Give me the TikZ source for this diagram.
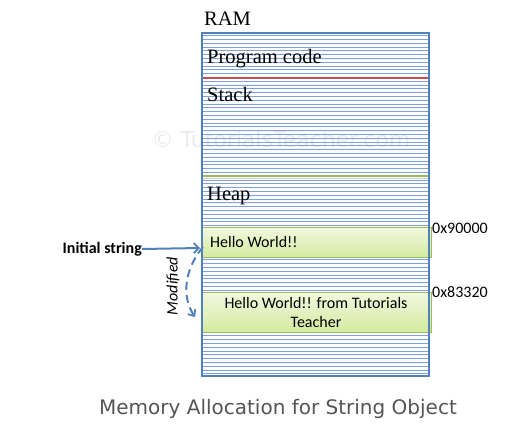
\documentclass[tikz,border=0pt]{standalone}
\usepackage{fontspec}
\setmainfont{Liberation Serif}
\newfontfamily\calfont{Carlito}
\newfontfamily\capfont{DejaVu Sans}
\usetikzlibrary{arrows.meta}
\definecolor{ramblue}{HTML}{4F81BD}
\definecolor{stripeblue}{HTML}{7EA2D8}
\definecolor{stackred}{HTML}{C0504D}
\definecolor{heapgreen}{HTML}{9BBB59}
\definecolor{boxtop}{HTML}{F1F8DE}
\definecolor{boxbot}{HTML}{D4EAA0}
\definecolor{capgray}{HTML}{555555}
\tikzset{
  stripe/.style={stripeblue, line width=1pt},
  serif/.style={inner sep=0pt, font=\fontsize{20.5}{22}\selectfont},
  sans/.style={inner sep=0pt, font=\calfont\fontsize{16}{19}\selectfont},
  strbox/.style={draw=heapgreen, line width=1pt, top color=boxtop, bottom color=boxbot, inner sep=0pt},
  arr/.style={ramblue, line width=2pt},
}
\begin{document}
\begin{tikzpicture}[x=1pt,y=-1pt]
\useasboundingbox (0,0) rectangle (530,424);
% watermark
\node[inner sep=0pt, anchor=base, text=black!8, font=\capfont\fontsize{22}{24}\selectfont] (wm) at (281,147) {© TutorialsTeacher.com};
% stripes
\foreach \i in {0,...,89} {
  \draw[stripe] (202,{35.6+\i*3.8}) -- (429,{35.6+\i*3.8});
}
% region separators
\draw[stackred, line width=1.8pt] (202,78) -- (429,78);
\draw[black!20, line width=1pt] (202,178) -- (429,178);
\draw[heapgreen, line width=2pt] (202,176) -- (429,176);
% string boxes
\node[strbox, minimum width=229pt, minimum height=30pt, anchor=north west] (s1) at (202,227) {};
\node[strbox, minimum width=229pt, minimum height=40pt, anchor=north west] (s2) at (202,292) {};
% RAM outline
\draw[ramblue, line width=2pt] (202,33) rectangle (429,376);
% serif labels
\node[serif, anchor=base west] (ram) at (204,25) {RAM};
\node[serif, anchor=base west] (prog) at (207,63) {Program code};
\node[serif, anchor=base west] (stack) at (207,101) {Stack};
\node[serif, anchor=base west] (heap) at (207,200) {Heap};
% string texts
\node[sans, anchor=west] (t1) at (210,242) {Hello World!!};
\node[sans, align=center, anchor=center] (t2) at (316,312) {Hello World!! from Tutorials\\Teacher};
\node[sans, anchor=west] (a1) at (432,228) {0x90000};
\node[sans, anchor=west] (a2) at (432,292) {0x83320};
% initial string arrow
\node[sans, font=\calfont\bfseries\fontsize{16}{19}\selectfont, anchor=east] (init) at (142,249) {Initial string};
\coordinate (tip) at (200,248);
\draw[arr, -{Straight Barb[length=5pt,width=10pt,line width=1.8pt]}] (init.east) -- (tip);
% modified arrow
\coordinate (mstart) at (203,247);
\coordinate (mend) at (195,317);
\draw[arr, dash pattern=on 8pt off 5pt, -{Straight Barb[length=5pt,width=9pt,line width=1.8pt]}]
  (mstart) .. controls (185,268) and (181,296) .. (mend);
\node[sans, font=\calfont\itshape\fontsize{16}{19}\selectfont, rotate=90] (mod) at (173,286) {Modified};
% caption
\node[inner sep=0pt, anchor=base, text=capgray, font=\capfont\fontsize{20}{24}\selectfont] (cap) at (278,414) {Memory Allocation for String Object};
\end{tikzpicture}
\end{document}
